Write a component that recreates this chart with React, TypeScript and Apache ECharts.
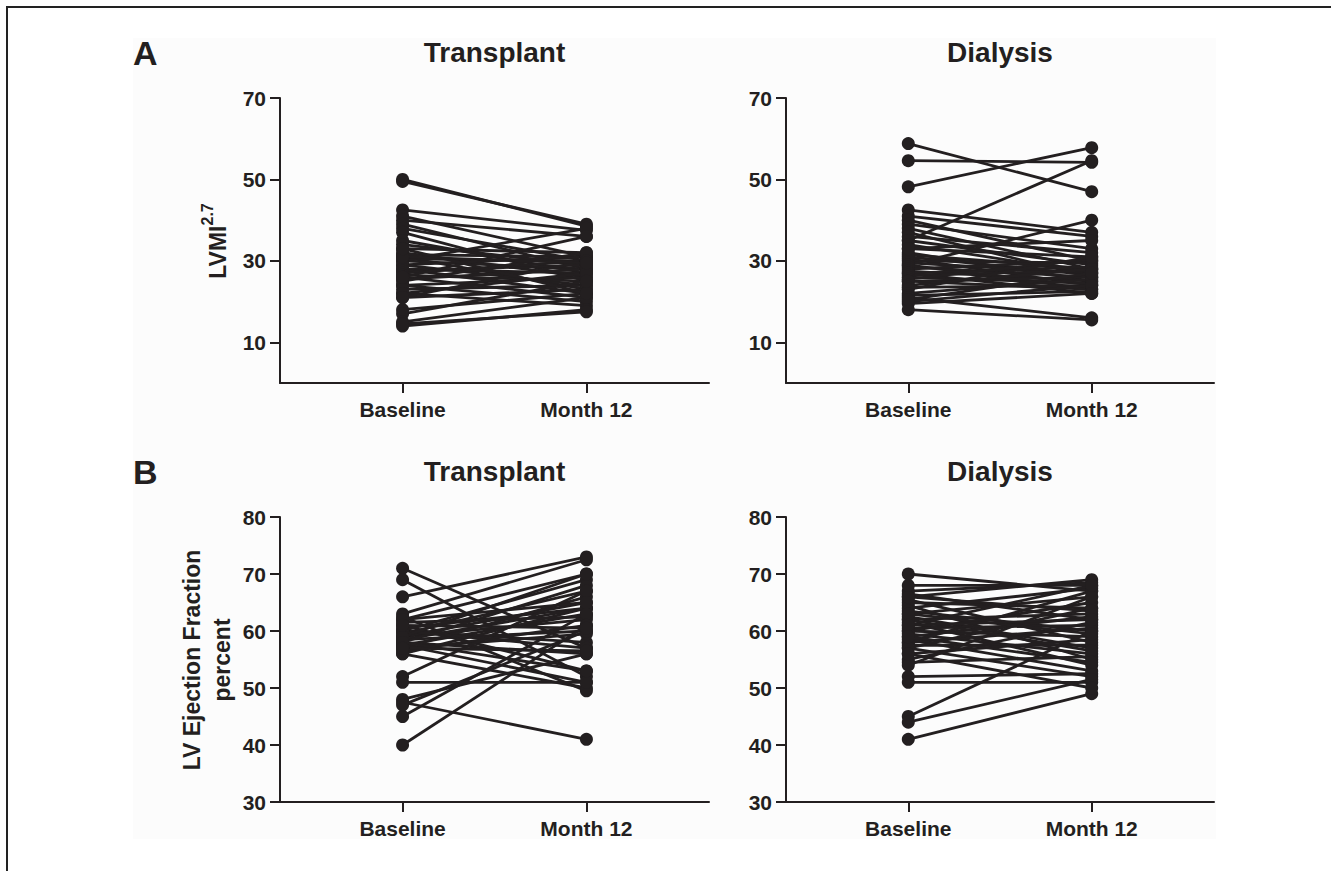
import React, { useEffect, useRef } from 'react';
import * as echarts from 'echarts';

// ---- Data ----
const timepoints = ['Baseline', 'Month 12'];
const timepointX = [1, 2.5];
const lvmiTicks = [10, 30, 50, 70];
const efTicks = [30, 40, 50, 60, 70, 80];

const lvmiTransplantBaseline = [50, 49.5, 42.5, 41, 40, 39, 38, 37, 35, 34, 33, 32, 31.5, 31, 30.5, 30, 30, 29, 29, 28, 28, 27.5, 27, 26.5, 26, 25.5, 25, 24, 24, 23, 22, 22, 21, 21, 18, 17, 15, 14, 14.5, 26, 31, 33];
const lvmiTransplantMonth12 = [38.5, 39, 37.5, 31, 36, 28, 30, 25, 27, 29, 32, 26, 31, 23, 30, 28, 38, 31, 24, 27, 22, 29, 30, 25, 21, 28, 32, 26, 20, 24, 27, 19, 23, 30, 22, 25, 21, 18, 17.5, 36, 29.5, 22];

const lvmiDialysisBaseline = [58.8, 54.6, 48.2, 35, 42.5, 41, 40, 39, 38, 37, 36, 35, 34, 33, 32, 31.5, 31, 30.5, 30, 29.5, 29, 29, 28.5, 28, 27.5, 27, 27, 26.5, 26, 25.5, 25, 25, 24, 23.5, 23, 22, 21.5, 21, 20, 19.5, 18, 20.5, 33];
const lvmiDialysisMonth12 = [47, 54.2, 57.8, 54.6, 37, 36, 30, 33, 28, 26, 32, 29, 27, 31, 25, 28, 26.5, 24, 29.5, 27, 40, 23, 26, 30, 25, 22, 28.5, 27.5, 24.5, 30.5, 26, 23, 28, 24, 31, 25.5, 22.5, 16, 24, 22, 15.5, 27, 35];

const efTransplantBaseline = [71, 69, 66, 63, 62, 61, 60.5, 60, 60, 59.5, 59, 59, 58.5, 58.5, 58, 58, 57.5, 57.5, 57, 57, 56.5, 56, 56, 60, 61.5, 62.5, 52, 51, 48, 47.5, 47, 45, 40, 59, 58, 62, 57, 61];
const efTransplantMonth12 = [57, 52, 73, 72.5, 70, 53, 64, 69, 58, 67, 62, 65, 60, 64, 56, 68, 63, 51, 66, 59.5, 61, 64, 50, 57, 62.5, 49.5, 67, 51, 56, 41, 60, 63, 61, 70, 53, 65, 56.5, 60.5];

const efDialysisBaseline = [70, 67, 66.5, 66, 65.5, 65, 64.5, 64, 63.5, 63, 62.5, 62, 61.5, 61, 60.5, 60, 60, 59.5, 59, 58.5, 58, 58, 57.5, 57, 57, 56, 55, 54.5, 54, 52, 51, 45, 44, 41, 62, 63, 66, 68, 61, 59, 56];
const efDialysisMonth12 = [67, 68.5, 62, 69, 58, 64, 55, 67.5, 60, 66, 57, 63, 54, 68, 61, 59, 65, 56, 62.5, 53, 60.5, 67, 57.5, 64, 52, 58.5, 61.5, 55.5, 66, 52.5, 51, 60, 51.5, 49, 56.5, 59.5, 63.5, 68, 62, 54.5, 50];

const FONT = '"Liberation Sans", Arial, Helvetica, sans-serif';
const INK = '#231f20';

export default function App() {
  const ref = useRef<HTMLDivElement>(null);

  useEffect(() => {
    if (!ref.current) return;
    const chart = echarts.init(ref.current, null, { renderer: 'svg' });

    const panels = [
      { grid: { left: 280, top: 98, width: 429, height: 285 }, min: 0, max: 70, ticks: lvmiTicks, base: lvmiTransplantBaseline, m12: lvmiTransplantMonth12 },
      { grid: { left: 786, top: 98, width: 428, height: 285 }, min: 0, max: 70, ticks: lvmiTicks, base: lvmiDialysisBaseline, m12: lvmiDialysisMonth12 },
      { grid: { left: 280, top: 517, width: 429, height: 285 }, min: 30, max: 80, ticks: efTicks, base: efTransplantBaseline, m12: efTransplantMonth12 },
      { grid: { left: 786, top: 517, width: 428, height: 285 }, min: 30, max: 80, ticks: efTicks, base: efDialysisBaseline, m12: efDialysisMonth12 },
    ];

    const axisLine = { show: true, onZero: false, lineStyle: { color: INK, width: 2 } };
    const labelStyle = { color: INK, fontSize: 21, fontWeight: 'bold' as const, fontFamily: FONT };

    const grids = panels.map((p) => ({ ...p.grid, containLabel: false }));
    const xAxes = panels.map((p, i) => ({
      type: 'value' as const,
      gridIndex: i,
      min: 0,
      max: 3.5,
      axisLine,
      splitLine: { show: false },
      axisTick: { show: true, length: 10, lineStyle: { color: INK, width: 2 }, customValues: timepointX },
      axisLabel: {
        ...labelStyle,
        margin: 16,
        customValues: timepointX,
        formatter: (v: number) => {
          const idx = timepointX.findIndex((t) => Math.abs(t - v) < 1e-6);
          return idx >= 0 ? timepoints[idx] : '';
        },
      },
    }));
    const yAxes = panels.map((p, i) => ({
      type: 'value' as const,
      gridIndex: i,
      min: p.min,
      max: p.max,
      axisLine,
      splitLine: { show: false },
      axisTick: { show: true, length: 10, lineStyle: { color: INK, width: 2 }, customValues: p.ticks },
      axisLabel: { ...labelStyle, margin: 14, customValues: p.ticks },
    }));

    const series: any[] = [];
    panels.forEach((p, i) => {
      p.base.forEach((b, k) => {
        series.push({
          type: 'line',
          xAxisIndex: i,
          yAxisIndex: i,
          data: [
            [timepointX[0], b],
            [timepointX[1], p.m12[k]],
          ],
          symbol: 'circle',
          symbolSize: 13,
          showSymbol: true,
          silent: true,
          lineStyle: { color: INK, width: 2.8 },
          itemStyle: { color: INK },
        });
      });
    });

    const titleStyle = { fontSize: 28, fontWeight: 'bold', fill: INK, fontFamily: FONT, align: 'center', verticalAlign: 'middle' };
    const letterStyle = { fontSize: 34, fontWeight: 'bold', fill: INK, fontFamily: FONT, align: 'left', verticalAlign: 'middle' };

    const graphic = [
      { type: 'rect', z: -100, silent: true, shape: { x: 133, y: 38, width: 1083, height: 801 }, style: { fill: '#fcfcfc' } },
      { type: 'line', z: 100, silent: true, shape: { x1: 6, y1: 7, x2: 1331, y2: 7 }, style: { stroke: '#222', lineWidth: 2 } },
      { type: 'line', z: 100, silent: true, shape: { x1: 7, y1: 6, x2: 7, y2: 871 }, style: { stroke: '#222', lineWidth: 2 } },
      { type: 'text', x: 133, y: 52.5, style: { ...letterStyle, text: 'A' } },
      { type: 'text', x: 133, y: 471.5, style: { ...letterStyle, text: 'B' } },
      { type: 'text', x: 494.5, y: 52, style: { ...titleStyle, text: 'Transplant' } },
      { type: 'text', x: 1000, y: 52, style: { ...titleStyle, text: 'Dialysis' } },
      { type: 'text', x: 494.5, y: 471, style: { ...titleStyle, text: 'Transplant' } },
      { type: 'text', x: 1000, y: 471, style: { ...titleStyle, text: 'Dialysis' } },
      {
        type: 'text',
        x: 218,
        y: 241,
        rotation: Math.PI / 2,
        style: {
          text: '{a|LVMI}{b|2.7}',
          align: 'center',
          verticalAlign: 'middle',
          fill: INK,
          fontFamily: FONT,
          rich: {
            a: { fontSize: 23, fontWeight: 'bold', fill: INK, fontFamily: FONT, lineHeight: 38, verticalAlign: 'middle' },
            b: { fontSize: 16, fontWeight: 'bold', fill: INK, fontFamily: FONT, lineHeight: 16, verticalAlign: 'top' },
          },
        },
      },
      {
        type: 'text',
        x: 207,
        y: 660,
        rotation: Math.PI / 2,
        style: {
          text: 'LV Ejection Fraction\npercent',
          align: 'center',
          verticalAlign: 'middle',
          fontSize: 23,
          lineHeight: 30,
          fontWeight: 'bold',
          fill: INK,
          fontFamily: FONT,
        },
      },
    ];

    chart.setOption({
      animation: false,
      backgroundColor: '#ffffff',
      grid: grids,
      xAxis: xAxes,
      yAxis: yAxes,
      series,
      graphic,
    });

    return () => chart.dispose();
  }, []);

  return <div ref={ref} style={{ position: 'fixed', left: 0, top: 0, width: 1331, height: 871 }} />;
}
